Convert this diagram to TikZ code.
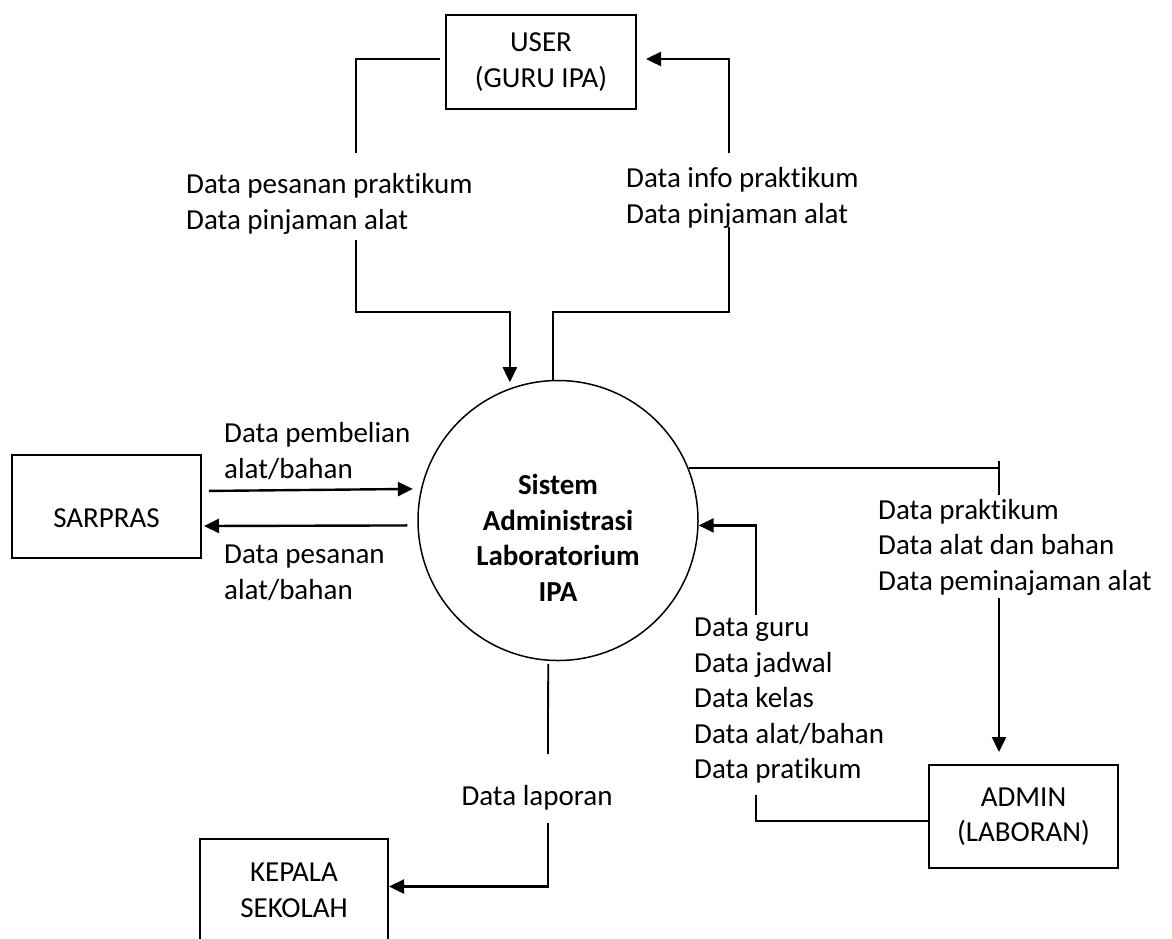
\documentclass[tikz,border=0pt]{standalone}
\usepackage{fontspec}
\setmainfont{Carlito}[Ligatures=NoCommon]
\usetikzlibrary{arrows.meta}

\begin{document}
\begin{tikzpicture}[
x=1pt,y=-1pt,
every node/.style={font=\fontsize{29}{35.5}\selectfont,align=left},
box/.style={draw,line width=2pt,minimum width=189pt,minimum height=103pt,align=center},
proc/.style={draw,circle,line width=1.5pt,minimum size=280pt},
lbl/.style={anchor=west,inner sep=0pt},
ln/.style={line width=1.8pt},
arr/.style={-{Triangle[length=15pt,width=14pt]},line width=2.4pt}
]
\path[use as bounding box] (0,0) rectangle (1172,938);
\clip (0,0) rectangle (1172,938);
\node[box,minimum width=190pt,minimum height=94pt] (u) at (541,62) {USER\\(GURU IPA)};
\node[box,text height=42pt,text depth=0pt] (sp) at (106.5,506.5) {SARPRAS};
\node[box,minimum width=188pt] (k) at (294,890.5) {KEPALA\\SEKOLAH};
\node[box] (a) at (1023.5,816.5) {ADMIN\\(LABORAN)};
\node[proc] (s) at (558,520.5) {};
\node[font=\fontsize{29}{35.5}\selectfont\bfseries,align=center] (st) at (558,538) {Sistem\\Administrasi\\Laboratorium\\IPA};

\node[lbl] (la) at (186,204) {Data pesanan praktikum\\Data pinjaman alat};
\node[lbl] (lb) at (626,198) {Data info praktikum\\Data pinjaman alat};
\node[lbl] (lc) at (224,451) {Data pembelian\\alat/bahan};
\node[lbl] (ld) at (224,573) {Data pesanan\\alat/bahan};
\node[inner sep=0pt] (le) at (537,798) {Data laporan};
\node[lbl] (lf) at (878,547) {Data praktikum\\Data alat dan bahan\\Data peminajaman alat};
\node[lbl] (lg) at (694,701) {Data guru\\Data jadwal\\Data kelas\\Data alat/bahan\\Data pratikum};

\coordinate (a1) at (356,153); \coordinate (a2) at (356,240); \coordinate (ua) at (356,312);
\coordinate (b1) at (729,227); \coordinate (b2) at (729,153); \coordinate (ub) at (729,312);
\coordinate (e1) at (548,754); \coordinate (e2) at (548,823);
\coordinate (f0) at (999,461); \coordinate (f1) at (999,495); \coordinate (f2) at (999,598);
\coordinate (g1) at (756,615); \coordinate (g2) at (756,795);

\draw[ln,shorten <=5pt] ([yshift=3pt]u.west) -| (a1);
\draw[arr,shorten >=6pt] (a2) -- (ua) -| (s.110);
\draw[ln] (s.92) |- (ub) -- (b1);
\draw[arr,shorten >=9pt] (b2) |- ([yshift=3pt]u.east);
\draw[arr,shorten <=7pt,shorten >=8pt] ([yshift=15.5pt]sp.east) -- (s.167.8);
\draw[arr,shorten <=10pt,shorten >=2pt] (s.182.25) -- ([yshift=-19.5pt]sp.east);
\draw[ln,shorten <=3pt] (s.266) -- (e1);
\draw[arr] (e2) |- ([yshift=4pt]k.east);
\draw[ln] (s.22.8) -- (s.22.8 -| f0);
\draw[ln] (f0) -- (f1);
\draw[arr,shorten >=12pt] (f2) -- (f2 |- a.north);
\draw[ln] ([yshift=-4.5pt]a.west) -| (g2);
\draw[arr] (g1) |- (s.-2.7);
\end{tikzpicture}
\end{document}
